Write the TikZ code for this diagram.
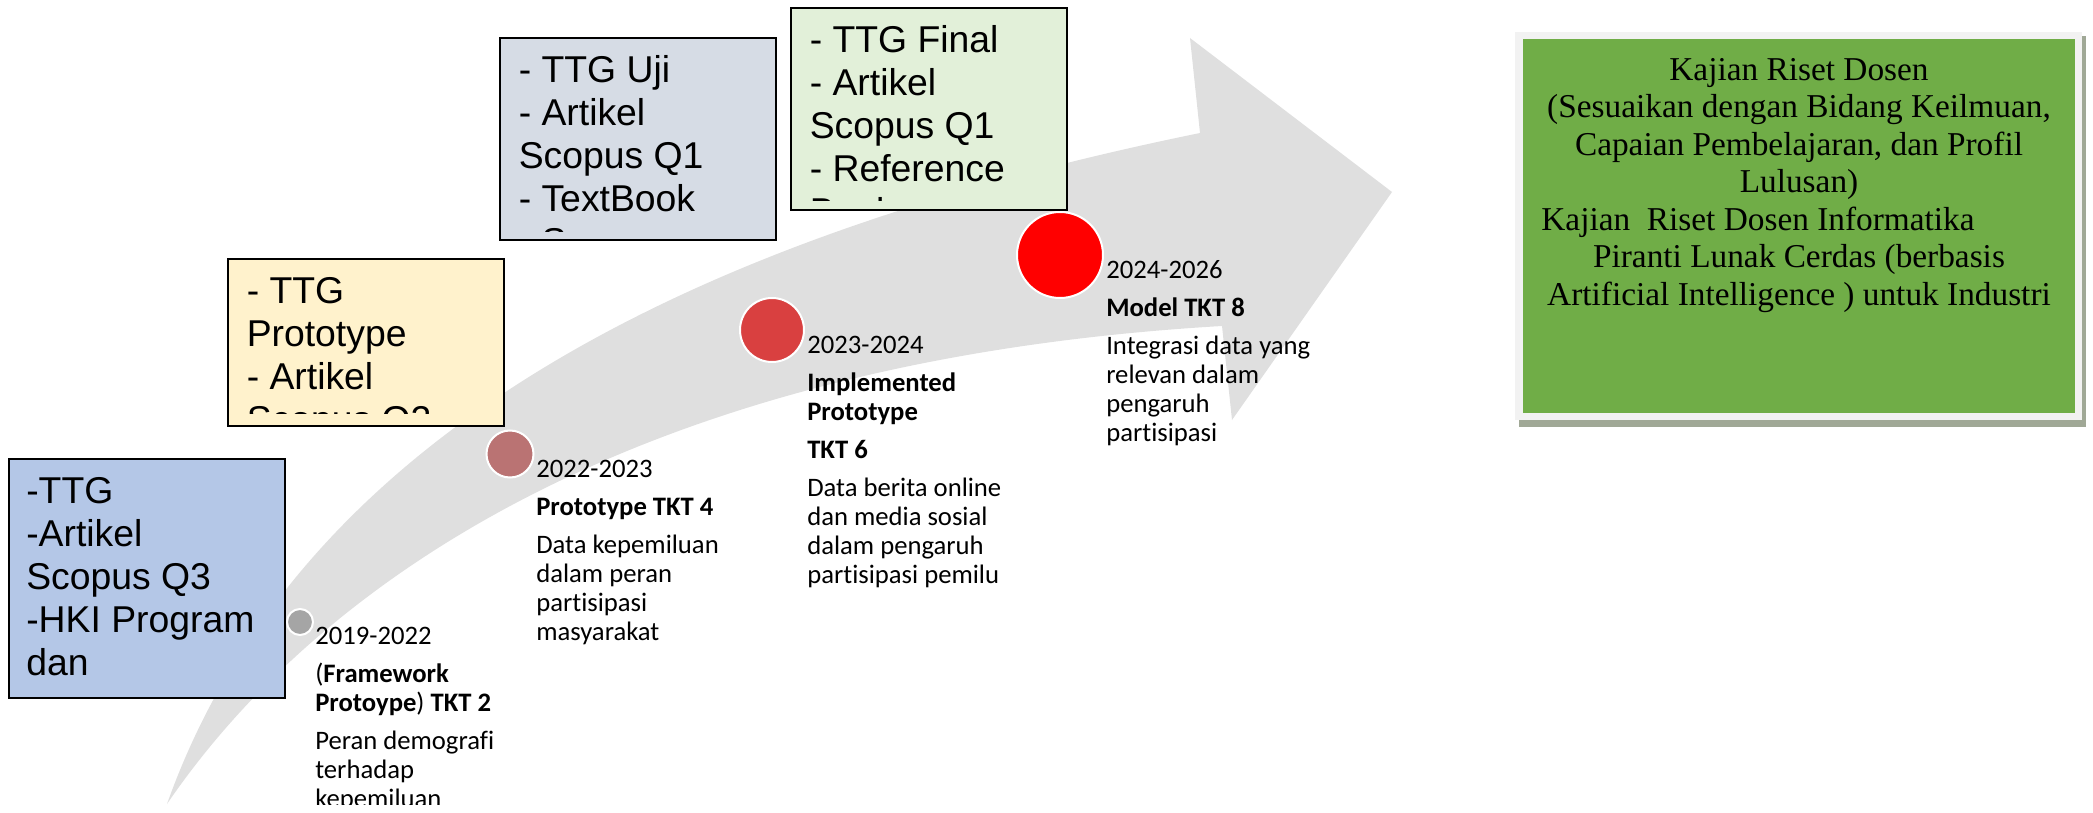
\documentclass[tikz,border=0pt]{standalone}
\usepackage{fontspec}
\newfontfamily\arialf{Liberation Sans}
\newfontfamily\calf[Ligatures=NoCommon]{Carlito}
\newfontfamily\serf{Liberation Serif}
\definecolor{arrowgrey}{RGB}{223,223,223}
\definecolor{boxblue}{RGB}{180,199,231}
\definecolor{boxyellow}{RGB}{255,242,204}
\definecolor{boxslate}{RGB}{214,220,229}
\definecolor{boxmint}{RGB}{226,240,217}
\definecolor{kgreen}{RGB}{112,173,71}
\definecolor{kframe}{RGB}{242,242,242}
\definecolor{kshadow}{RGB}{160,168,150}
\definecolor{dotgrey}{RGB}{165,165,165}
\definecolor{dotrose}{RGB}{186,115,115}
\definecolor{dotred}{RGB}{217,64,64}
\definecolor{dotbright}{RGB}{255,0,0}
\begin{document}
\begin{tikzpicture}[x=0.75pt,y=-0.75pt,
  outbox/.style={draw=black, line width=1.5pt, inner sep=0pt, anchor=north west, minimum width=207pt},
  boxtext/.style={inner sep=0pt, anchor=north west, align=left, font=\arialf\fontsize{28}{32.25}\selectfont},
  stagetext/.style={inner sep=0pt, anchor=north west, align=left, font=\calf\fontsize{20}{21.75}\selectfont},
  dot/.style={circle, draw=white, line width=1.5pt, inner sep=0pt},
  plain/.style={inner sep=0pt, anchor=north west, draw=none},
]
\useasboundingbox (0,0) rectangle (2093,813);

% curved arrow
\fill[arrowgrey] (167,804) .. controls (300,430) and (700,235) .. (1200,133)
  -- (1190,38) -- (1392,192) -- (1232,420) -- (1222,326)
  .. controls (640,360) and (320,580) .. (167,804) -- cycle;

% dots
\node[dot, fill=dotgrey, minimum size=19.5pt] (c1) at (300,622) {};
\node[dot, fill=dotrose, minimum size=35.25pt] (c2) at (510,454) {};
\node[dot, fill=dotred, minimum size=48pt] (c3) at (772,330) {};
\node[dot, fill=dotbright, minimum size=64.5pt] (c4) at (1060,255) {};

% output boxes
\node[outbox, fill=boxblue, minimum height=179.25pt] (b1) at (8,458) {};
\node[outbox, fill=boxyellow, minimum height=125.25pt] (b2) at (227,258) {};
\node[outbox, fill=boxslate, minimum height=151.5pt] (b3) at (499,37) {};
\node[outbox, fill=boxmint, minimum height=151.5pt] (b4) at (790,7) {};

\begin{scope}
\clip (8,458) rectangle (284,690);
\node[boxtext] (t1) at (26,458) {\rule{0pt}{34.1pt}-TTG\\-Artikel\\Scopus Q3\\-HKI Program\\dan};
\end{scope}
\begin{scope}
\clip (227,258) rectangle (503,413);
\node[boxtext] (t2) at (246.5,258) {\rule{0pt}{34.1pt}- TTG\\Prototype\\- Artikel\\Scopus Q2};
\end{scope}
\begin{scope}
\clip (499,37) rectangle (775,232);
\node[boxtext] (t3) at (518.5,37) {\rule{0pt}{34.1pt}- TTG Uji\\- Artikel\\Scopus Q1\\- TextBook\\- Scopus};
\end{scope}
\begin{scope}
\clip (790,7) rectangle (1066,201);
\node[boxtext] (t4) at (809.5,7) {\rule{0pt}{34.1pt}- TTG Final\\- Artikel\\Scopus Q1\\- Reference\\Book};
\end{scope}

% stage labels
\begin{scope}
\clip (290,600) rectangle (560,804);
\node[stagetext] (s1) at (315,624) {\rule{0pt}{15pt}2019-2022\\[6.75pt]
(\textbf{Framework}\\\textbf{Protoype}) \textbf{TKT 2}\\[6.75pt]
Peran demografi\\terhadap\\kepemiluan};
\end{scope}
\node[stagetext] (s2) at (536,457) {\rule{0pt}{15pt}2022-2023\\[6.75pt]
\textbf{Prototype TKT 4}\\[6.75pt]
Data kepemiluan\\dalam peran\\partisipasi\\masyarakat};
\node[stagetext] (s3) at (807,333) {\rule{0pt}{15pt}2023-2024\\[6.75pt]
\textbf{Implemented}\\\textbf{Prototype}\\[6.75pt]
\textbf{TKT 6}\\[6.75pt]
Data berita online\\dan media sosial\\dalam pengaruh\\partisipasi pemilu};
\node[stagetext] (s4) at (1106,258) {\rule{0pt}{15pt}2024-2026\\[6.75pt]
\textbf{Model TKT 8}\\[6.75pt]
Integrasi data yang\\relevan dalam\\pengaruh\\partisipasi};

% research focus box
\node[plain, fill=kshadow, minimum width=425.25pt, minimum height=293.25pt] (ksh) at (1519,36) {};
\node[plain, fill=kframe, minimum width=425.25pt, minimum height=291pt] (kfr) at (1515,32) {};
\node[plain, fill=kgreen, minimum width=414pt, minimum height=280.5pt] (kbox) at (1523,39) {};
\node[inner sep=0pt, anchor=north, align=center, font=\serf\fontsize{25}{28.1}\selectfont] (ktext) at (1799,50)
{\rule{0pt}{22.5pt}Kajian Riset Dosen\\(Sesuaikan dengan Bidang Keilmuan,\\Capaian Pembelajaran, dan Profil\\Lulusan)\\
Kajian\ \ Riset Dosen Informatika\rule{61.5pt}{0pt}\\Piranti Lunak Cerdas (berbasis\\Artificial Intelligence ) untuk Industri};
\end{tikzpicture}
\end{document}
